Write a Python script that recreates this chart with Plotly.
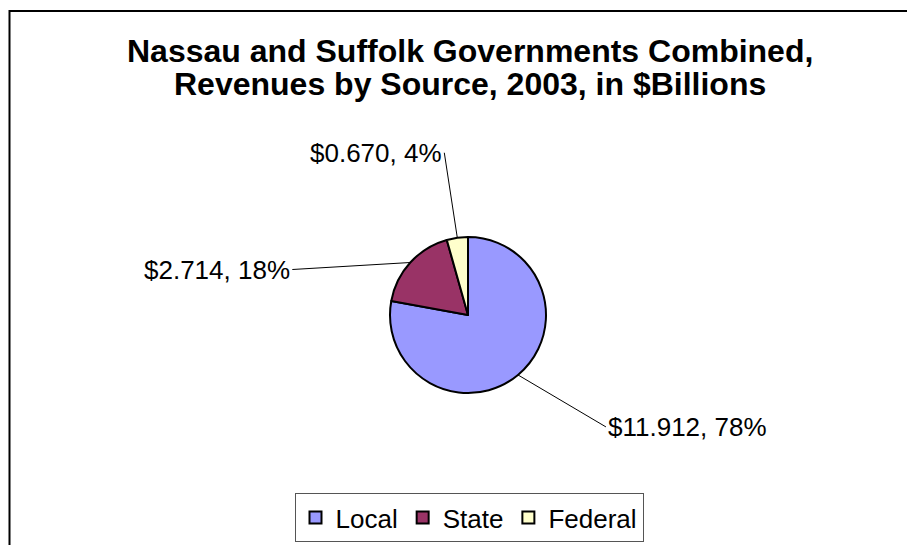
# Nassau and Suffolk governments combined - revenues by source, 2003

import math
import plotly.graph_objects as go


sources = ["Local", "State", "Federal"]
revenues = [11.912, 2.714, 0.670]  # $ billions
colors = ["#9999FF", "#993366", "#FFFFCC"]

# the page body has an 8px margin, so the figure is a bit smaller
W, H = 907, 537
font = "Liberation Sans, Arial, sans-serif"

# pie placement in pixels
cx, cy, r = 460, 307, 78

fig = go.Figure(go.Pie(
    labels=sources, values=revenues, sort=False, direction="clockwise",
    marker=dict(colors=colors, line=dict(color="black", width=2)),
    textinfo="none", hoverinfo="label+value+percent",
    domain=dict(x=[(cx - r) / W, (cx + r) / W],
                y=[(H - cy - r) / H, (H - cy + r) / H]),
))

# data labels with leader lines, pointing at the middle of each slice edge
label_offsets = [(88, 52, "left"), (-118, 7, "right"), (-13, -85, "right")]
total = sum(revenues)
cum = 0
for v, (ax, ay, anchor) in zip(revenues, label_offsets):
    mid = (cum + v / 2) / total * 2 * math.pi
    cum += v
    hx = cx + r * math.sin(mid)
    hy = cy - r * math.cos(mid)
    fig.add_annotation(
        xref="paper", yref="paper", x=hx / W, y=(H - hy) / H,
        text=f"${v:.3f}, {round(v / total * 100)}%",
        showarrow=True, arrowhead=0, arrowwidth=1, arrowcolor="black",
        ax=ax, ay=ay, xanchor=anchor, yanchor="middle",
        font=dict(family=font, size=26, color="black"),
    )

# title, two lines set tighter than plotly's default line height
title_lines = ["Nassau and Suffolk Governments Combined,",
               "Revenues by Source, 2003, in $Billions"]
for i, line in enumerate(title_lines):
    fig.add_annotation(
        xref="paper", yref="paper", x=462 / W, y=1 - (43 + 33 * i) / H,
        text=f"<b>{line}</b>", showarrow=False,
        xanchor="center", yanchor="middle",
        font=dict(family=font, size=32, color="black"),
    )

# chart area border (runs off the right and bottom of the picture)
fig.add_shape(type="rect", xref="paper", yref="paper",
              x0=1.5 / W, x1=1.02, y0=-0.02, y1=1 - 3 / H,
              line=dict(color="black", width=2))

fig.update_layout(
    width=W, height=H,
    margin=dict(l=0, r=0, t=0, b=0),
    paper_bgcolor="white", plot_bgcolor="white",
    font=dict(family=font, color="black"),
    showlegend=True,
    legend=dict(orientation="h", x=461 / W, xanchor="center",
                y=3 / H, yanchor="bottom",
                font=dict(family=font, size=26, color="black"),
                bgcolor="white", bordercolor="#555555", borderwidth=1,
                itemwidth=30),
)

fig.write_html("out.html")
